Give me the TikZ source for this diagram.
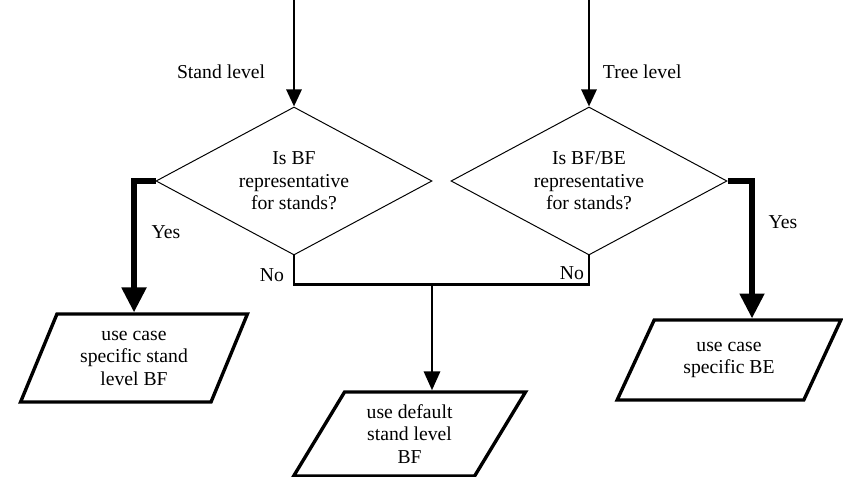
\documentclass[tikz,border=0pt]{standalone}
\usepackage{fontspec}
\setmainfont{Liberation Serif}
\usepackage{tikz}
\usetikzlibrary{arrows.meta,positioning,shapes.geometric,calc}

\begin{document}
\begin{tikzpicture}[
    font=\fontsize{14}{16}\selectfont,
    question/.style={diamond, draw, line width=0.7pt, shape aspect=1.86, minimum width=6.9cm, minimum height=3.7cm, inner sep=0pt, align=center},
    outcome/.style={trapezium, draw, line width=2.4pt, trapezium stretches=true, align=center, inner sep=2pt},
    inarrow/.style={-{Triangle[length=0.425cm, width=0.375cm]}, line width=2pt},
    yesarrow/.style={-{Triangle[length=0.62cm, width=0.6cm]}, line width=3.6pt},
    noline/.style={line width=2pt},
    noarrow/.style={-{Triangle[length=0.47cm, width=0.4cm]}, line width=2pt}
  ]
  \useasboundingbox (0,0) rectangle (21.075,11.925);
  \node[question] (isbf) at (7.35,7.4) {Is BF\\representative\\for stands?};
  \node[question] (isbe) at (14.725,7.4) {Is BF/BE\\representative\\for stands?};
  \node[outcome, trapezium left angle=66, trapezium right angle=114, minimum width=5.675cm, minimum height=2.2cm] (casebf) at (3.35,2.975) {use case\\specific stand\\level BF};
  \node[outcome, trapezium left angle=61, trapezium right angle=119, minimum width=5.8cm, minimum height=2.1cm] (dflt) at (10.24,1.075) {use default\\stand level\\BF};
  \node[outcome, trapezium left angle=60, trapezium right angle=120, minimum width=5.6cm, minimum height=2.0cm] (casebe) at (18.225,2.925) {use case\\specific BE};
  \coordinate (topL) at (7.35,11.925);
  \coordinate (topR) at (14.725,11.925);
  \coordinate (yesR) at (18.8,7.4);
  \coordinate (split) at (10.8,4.825);
  \draw[inarrow] (topL) -- (isbf);
  \draw[inarrow] (topR) -- (isbe);
  \draw[yesarrow] (isbf.west) -| (casebf);
  \draw[yesarrow] (isbe.east) -| (yesR |- casebe.north);
  \draw[noline] (isbf.south) -- ++(0,-0.725) -| (isbe.south);
  \draw[noarrow] (split) -- (split |- dflt.north);
  \node[anchor=east] (standlbl) at (6.75,10.125) {Stand level};
  \node[anchor=west] (treelbl) at (14.95,10.125) {Tree level};
  \node (yesbf) at (4.15,6.125) {Yes};
  \node (yesbe) at (19.575,6.375) {Yes};
  \node (nobf) at (6.8,5.05) {No};
  \node (nobe) at (14.3,5.1) {No};
\end{tikzpicture}
\end{document}
